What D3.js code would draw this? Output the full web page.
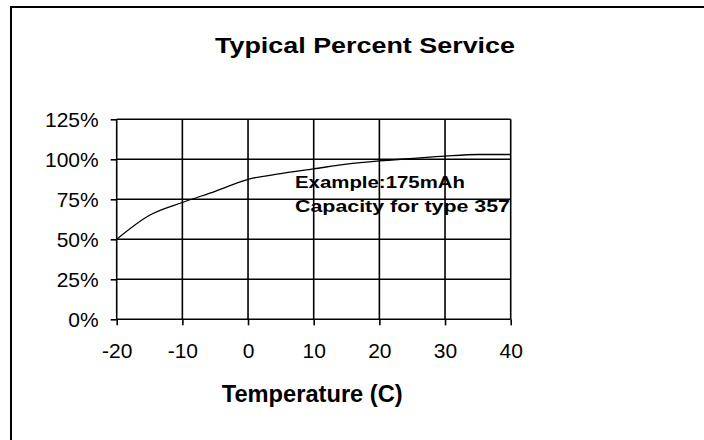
<!DOCTYPE html>
<html>
<head>
<meta charset="utf-8">
<script src="https://cdn.jsdelivr.net/npm/d3@7"></script>
<style>
  html, body { margin: 0; padding: 0; background: #fff; }
  svg { display: block; }
  text { font-family: "Liberation Sans", Arial, sans-serif; fill: #000; }
</style>
</head>
<body>
<svg id="chart" width="704" height="440"></svg>
<script>
// ---- data ----
const temperatures = [-20, -15, -10, -5, 0, 5, 10, 15, 20, 25, 30, 35, 40];
const percentService = [50, 65, 73, 80, 87.5, 91, 94, 97, 99, 100.5, 102, 103, 103];
const xTicks = [-20, -10, 0, 10, 20, 30, 40];
const yTicks = [0, 25, 50, 75, 100, 125];
const titleText = "Typical Percent Service";
const xAxisTitle = "Temperature (C)";
const noteLines = ["Example:175mAh", "Capacity for type 357"];

// ---- layout ----
const svg = d3.select("#chart");
const x = d3.scaleLinear().domain([-20, 40]).range([116.7, 510.7]);
const y = d3.scaleLinear().domain([0, 125]).range([319.3, 119.3]);

// outer frame (extends beyond right/bottom edges)
svg.append("rect")
  .attr("x", 11).attr("y", 7)
  .attr("width", 900).attr("height", 900)
  .attr("fill", "none").attr("stroke", "#000").attr("stroke-width", 2);

// title
svg.append("text")
  .attr("x", 215).attr("y", 53.3)
  .attr("font-size", 22).attr("font-weight", "bold")
  .attr("textLength", 300).attr("lengthAdjust", "spacingAndGlyphs")
  .text(titleText);

// gridlines
const grid = svg.append("g").attr("stroke", "#000").attr("stroke-width", 1.6);
grid.selectAll("line.h").data(yTicks).join("line")
  .attr("class", "h")
  .attr("x1", x(-20)).attr("x2", x(40))
  .attr("y1", d => y(d)).attr("y2", d => y(d));
grid.selectAll("line.v").data(xTicks).join("line")
  .attr("class", "v")
  .attr("x1", d => x(d)).attr("x2", d => x(d))
  .attr("y1", y(0)).attr("y2", y(125));

// axes (ticks + labels)
const yAxis = d3.axisLeft(y).tickValues(yTicks).tickSize(6).tickPadding(12)
  .tickFormat(d => d + "%");
const gy = svg.append("g").attr("transform", `translate(${x(-20)},0)`).call(yAxis);
gy.select(".domain").remove();
gy.selectAll(".tick line").attr("stroke", "#000").attr("stroke-width", 1.6);
gy.selectAll(".tick text").attr("font-size", 21)
  .attr("font-family", "'Liberation Sans', Arial, sans-serif").attr("fill", "#000");

const xAxis = d3.axisBottom(x).tickValues(xTicks).tickSize(6).tickPadding(18)
  .tickFormat(d => String(d));
const gx = svg.append("g").attr("transform", `translate(0,${y(0)})`).call(xAxis);
gx.select(".domain").remove();
gx.selectAll(".tick line").attr("stroke", "#000").attr("stroke-width", 1.6);
gx.selectAll(".tick text").attr("font-size", 21)
  .attr("font-family", "'Liberation Sans', Arial, sans-serif").attr("fill", "#000")
  .attr("dy", 0).attr("y", 39);

// x axis title
svg.append("text")
  .attr("x", 221.7).attr("y", 401.7)
  .attr("font-size", 23).attr("font-weight", "bold")
  .attr("textLength", 181).attr("lengthAdjust", "spacingAndGlyphs")
  .text(xAxisTitle);

// curve
const pts = temperatures.map((t, i) => [t, percentService[i]]);
const line = d3.line().x(d => x(d[0])).y(d => y(d[1])).curve(d3.curveMonotoneX);
svg.append("path").datum(pts)
  .attr("d", line)
  .attr("fill", "none").attr("stroke", "#000").attr("stroke-width", 1.3);

// annotation
const noteLens = [170, 215];
const noteY = [188.3, 212];
svg.selectAll("text.note").data(noteLines).join("text")
  .attr("class", "note")
  .attr("x", 295).attr("y", (d, i) => noteY[i])
  .attr("font-size", 17).attr("font-weight", "bold")
  .attr("textLength", (d, i) => noteLens[i]).attr("lengthAdjust", "spacingAndGlyphs")
  .text(d => d);
</script>
</body>
</html>
